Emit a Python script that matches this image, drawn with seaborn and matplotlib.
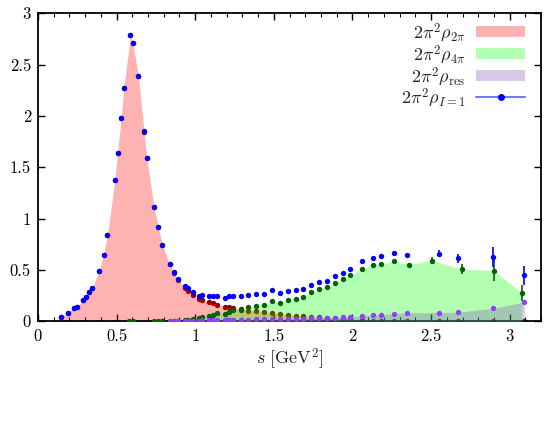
import numpy as np
import matplotlib
matplotlib.use("Agg")
import matplotlib.pyplot as plt
import seaborn as sns
from matplotlib.patches import Patch
from matplotlib.lines import Line2D
from matplotlib.ticker import MultipleLocator

# ---------------- data ----------------
s_tot = [0.144, 0.193, 0.227, 0.246, 0.288, 0.305, 0.327, 0.345, 0.389, 0.417, 0.442,
         0.489, 0.506, 0.529, 0.546, 0.588, 0.603, 0.639, 0.675, 0.692, 0.737, 0.766,
         0.791, 0.838, 0.866, 0.891, 0.935, 0.952, 0.988, 1.027, 1.041, 1.088, 1.113,
         1.141, 1.187, 1.213, 1.238, 1.289, 1.338, 1.389, 1.437, 1.488, 1.537, 1.587,
         1.638, 1.687, 1.738, 1.786, 1.837, 1.886, 1.937, 1.985, 2.063, 2.133, 2.180,
         2.262, 2.347, 2.550, 2.671, 2.891, 3.092]
rho_tot = [0.04, 0.084, 0.134, 0.139, 0.207, 0.241, 0.289, 0.32, 0.492, 0.65, 0.841,
           1.372, 1.64, 1.98, 2.275, 2.785, 2.71, 2.385, 1.85, 1.59, 1.117, 0.919,
           0.748, 0.562, 0.479, 0.417, 0.34, 0.32, 0.282, 0.25, 0.255, 0.243, 0.243,
           0.243, 0.232, 0.246, 0.246, 0.246, 0.255, 0.265, 0.268, 0.305, 0.275, 0.294,
           0.304, 0.317, 0.353, 0.379, 0.395, 0.437, 0.473, 0.505, 0.583, 0.618, 0.634,
           0.663, 0.647, 0.66, 0.615, 0.628, 0.447]
err_tot = [0.003, 0.003, 0.003, 0.003, 0.004, 0.004, 0.004, 0.004, 0.005, 0.006, 0.007,
           0.01, 0.01, 0.012, 0.012, 0.015, 0.015, 0.012, 0.01, 0.01, 0.008, 0.007,
           0.006, 0.005, 0.005, 0.005, 0.004, 0.004, 0.004, 0.004, 0.004, 0.004, 0.004,
           0.004, 0.004, 0.004, 0.004, 0.004, 0.005, 0.005, 0.005, 0.005, 0.005, 0.006,
           0.006, 0.006, 0.007, 0.007, 0.008, 0.008, 0.009, 0.01, 0.012, 0.013, 0.014,
           0.018, 0.016, 0.03, 0.045, 0.1, 0.09]

s_2pi = s_tot
rho_2pi = [0.04, 0.084, 0.134, 0.139, 0.207, 0.241, 0.289, 0.32, 0.492, 0.65, 0.841,
           1.372, 1.64, 1.978, 2.273, 2.785, 2.71, 2.385, 1.848, 1.588, 1.114, 0.916,
           0.744, 0.554, 0.466, 0.405, 0.322, 0.3, 0.252, 0.213, 0.21, 0.184, 0.178,
           0.162, 0.143, 0.142, 0.133, 0.12, 0.105, 0.097, 0.087, 0.081, 0.071, 0.06,
           0.055, 0.049, 0.045, 0.04, 0.036, 0.032, 0.028, 0.024, 0.012, 0.006, 0.005,
           0.003, 0.002, 0.002, 0.001, 0.001, 0.0]

s_4pi = [0.580, 0.603, 0.737, 0.766, 0.791, 0.838, 0.866, 0.891, 0.935, 0.952, 0.988,
         1.027, 1.041, 1.088, 1.113, 1.141, 1.187, 1.213, 1.238, 1.289, 1.338, 1.389,
         1.437, 1.488, 1.537, 1.587, 1.638, 1.687, 1.738, 1.786, 1.837, 1.886, 1.937,
         1.985, 2.063, 2.133, 2.180, 2.262, 2.357, 2.503, 2.698, 2.900, 3.075]
rho_4pi = [0.0, 0.0, 0.0, 0.001, 0.002, 0.004, 0.006, 0.008, 0.014, 0.017, 0.027,
           0.034, 0.039, 0.055, 0.057, 0.079, 0.071, 0.095, 0.11, 0.107, 0.14, 0.152,
           0.162, 0.2, 0.18, 0.205, 0.222, 0.24, 0.282, 0.311, 0.333, 0.375, 0.41,
           0.447, 0.511, 0.545, 0.556, 0.583, 0.553, 0.592, 0.508, 0.495, 0.275]
err_4pi = [0.0] * 38 + [0.012, 0.03, 0.05, 0.1, 0.08]

s_res = [0.838, 0.866, 0.891, 0.935, 0.952, 0.988, 1.027, 1.041, 1.088, 1.113, 1.141,
         1.187, 1.213, 1.238, 1.289, 1.338, 1.389, 1.437, 1.488, 1.537, 1.587, 1.638,
         1.687, 1.738, 1.786, 1.837, 1.886, 1.937, 1.985, 2.063, 2.133, 2.180, 2.262,
         2.347, 2.550, 2.671, 2.891, 3.092]
rho_res = [0.003, 0.004, 0.004, 0.005, 0.006, 0.007, 0.008, 0.009, 0.01, 0.011, 0.012,
           0.013, 0.014, 0.015, 0.016, 0.017, 0.018, 0.019, 0.02, 0.021, 0.022, 0.024,
           0.026, 0.028, 0.03, 0.032, 0.035, 0.038, 0.042, 0.056, 0.061, 0.065, 0.074,
           0.084, 0.084, 0.09, 0.126, 0.187]

labels = [r"$2\pi^2\rho_{2\pi}$", r"$2\pi^2\rho_{4\pi}$",
          r"$2\pi^2\rho_{\rm res}$", r"$2\pi^2\rho_{I=1}$"]

# ---------------- style ----------------
sns.set_theme(style="ticks")
plt.rcParams["font.family"] = ["serif"]
plt.rcParams["font.serif"] = ["cmr10", "DejaVu Serif"]
plt.rcParams["mathtext.fontset"] = "cm"
plt.rcParams["axes.formatter.use_mathtext"] = True
plt.rcParams["axes.unicode_minus"] = False

fig = plt.figure(figsize=(5.5, 4.42), dpi=100)
ax = fig.add_axes([0.069, 0.273, 0.915, 0.697])

red_c = "#ff0000"
green_c = "#00ff00"
res_c = "#7d48b2"

# red points (under the fills)
sns.scatterplot(x=s_2pi, y=rho_2pi, ax=ax, color="#8a0000", s=15, linewidth=0,
                legend=False, zorder=1)

# fills
ax.fill_between([0.10] + list(s_2pi), [0.0] + list(rho_2pi), 0, color=red_c,
                alpha=0.3, linewidth=0, zorder=2)
ax.fill_between(s_4pi, rho_4pi, 0, color=green_c, alpha=0.3, linewidth=0, zorder=3)
ax.fill_between(s_res, rho_res, 0, color=res_c, alpha=0.3, linewidth=0, zorder=4)

# green points
ax.errorbar(s_4pi, rho_4pi, yerr=err_4pi, fmt="none", ecolor="#006400",
            elinewidth=1.2, zorder=5)
sns.scatterplot(x=s_4pi, y=rho_4pi, ax=ax, color="#006400", s=15, linewidth=0,
                legend=False, zorder=6)
# res points
sns.scatterplot(x=s_res, y=rho_res, ax=ax, color="#9040ff", s=15, linewidth=0,
                legend=False, zorder=6)
# total points
ax.errorbar(s_tot, rho_tot, yerr=err_tot, fmt="none", ecolor="#0000ff",
            elinewidth=1.2, zorder=7)
sns.scatterplot(x=s_tot, y=rho_tot, ax=ax, color="#0000ff", s=15, linewidth=0,
                legend=False, zorder=8)

ax.set_xlim(0, 3.2)
ax.set_ylim(0, 3)
ax.xaxis.set_minor_locator(MultipleLocator(0.1))
ax.set_xticks([0, 0.5, 1, 1.5, 2, 2.5, 3])
ax.set_xticklabels(["0", "0.5", "1", "1.5", "2", "2.5", "3"])
ax.set_yticks([0, 0.5, 1, 1.5, 2, 2.5, 3])
ax.set_yticklabels(["0", "0.5", "1", "1.5", "2", "2.5", "3"])
ax.tick_params(which="both", direction="in", top=True, right=True,
               labelsize=12, colors="black", pad=5)
ax.tick_params(which="major", length=5, width=1.0)
ax.tick_params(which="minor", length=3, width=0.8)
for sp in ax.spines.values():
    sp.set_visible(True)
    sp.set_linewidth(1.3)
    sp.set_color("black")
ax.set_xlabel(r"$s\ [\mathrm{GeV}^2]$", fontsize=13, labelpad=2)

handles = [Patch(facecolor="#ffb3b3", edgecolor="none"),
           Patch(facecolor="#b3ffb3", edgecolor="none"),
           Patch(facecolor="#d8c8e8", edgecolor="none"),
           Line2D([0], [0], color="#7878ff", lw=1.5, marker="o", markersize=4,
                  markerfacecolor="#0000ff", markeredgecolor="#0000ff")]
leg = ax.legend(handles, labels, loc="upper right", bbox_to_anchor=(0.982, 0.998),
                markerfirst=False, frameon=False,
                fontsize=13, handlelength=2.7, handleheight=0.55, labelspacing=-0.07,
                borderaxespad=0.0, handletextpad=0.6)
for t in leg.get_texts():
    t.set_ha("right")

fig.savefig("out.png", dpi=100)
